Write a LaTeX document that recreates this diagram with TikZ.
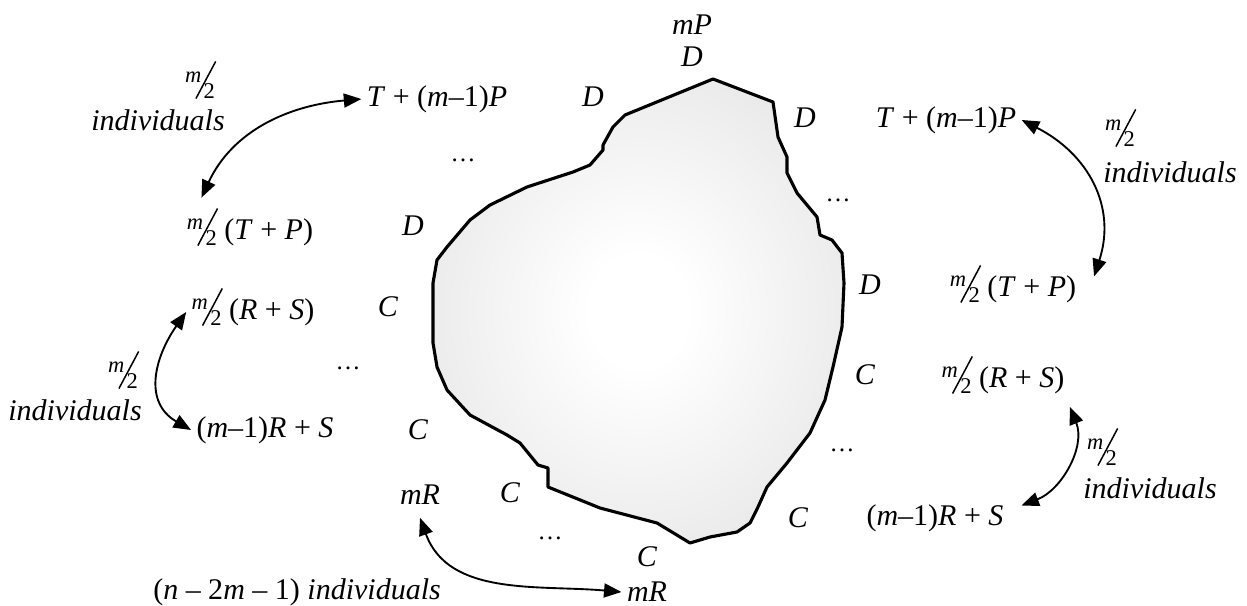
\documentclass[tikz,border=0pt]{standalone}
\usepackage{fontspec}
\setmainfont{Liberation Serif}
\usepackage{graphicx}
\usetikzlibrary{arrows.meta}

\newcommand{\hm}{\raisebox{.7ex}{\small\textit{m}}\kern-.2em\raisebox{-.5ex}{\rotatebox{62}{\rule{1.4em}{.6pt}}}\kern-.42em\raisebox{-.45ex}{\small 2}}
\newcommand{\iv}[1]{\textit{#1}}
\pgfdeclareradialshading{blobshade}{\pgfpoint{0bp}{0bp}}{color(0bp)=(white); color(6bp)=(white); color(50bp)=(black!17)}

\begin{document}
\begin{tikzpicture}[
  x=0.4pt, y=-0.4pt,
  font=\fontsize{12}{14}\selectfont,
  lbl/.style={inner sep=2pt},
  dts/.style={inner sep=1pt,font=\fontsize{10}{12}\selectfont},
  arr/.style={{Triangle[length=7pt,width=5.6pt]}-{Triangle[length=7pt,width=5.6pt]},line width=0.75pt},
  blob/.style={draw,line width=1.25pt,line join=round,shading=blobshade}
]
\useasboundingbox (0,0) rectangle (1247,606);

\path[blob] (713,79) -- (773,102) -- (778,137) -- (787,157) -- (787,173) -- (797,193)
  -- (817,217) -- (820,235) -- (832,240) -- (842,253) -- (844,283) -- (842,327)
  -- (833,367) -- (825,400) -- (810,433) -- (787,463) -- (767,487) -- (758,507)
  -- (750,523) -- (737,532) -- (710,537) -- (690,543) -- (657,523) -- (600,508)
  -- (548,487) -- (548,468) -- (538,465) -- (520,443) -- (507,435) -- (470,415)
  -- (447,390) -- (437,367) -- (433,343) -- (433,283) -- (437,260) -- (447,247)
  -- (470,220) -- (490,205) -- (527,187) -- (573,172) -- (590,165) -- (603,150)
  -- (603,145) -- (613,127) -- (625,115) -- cycle;

% top
\node[lbl] (mp)   at (692,25)  {\iv{mP}};
\node[lbl] (dtop) at (692,57)  {\iv{D}};
\node[lbl] (dtl)  at (593,97)  {\iv{D}};
\node[lbl] (dtr)  at (805,118) {\iv{D}};

% left side
\node[lbl] (ltop)   at (437,99)  {\iv{T} + (\iv{m}–1)\iv{P}};
\node[lbl] (lhalfa) at (200,80)  {\hm};
\node[lbl] (linda)  at (158,120) {\iv{individuals}};
\node[lbl] (ltp)    at (250,227) {\hm\ (\iv{T} + \iv{P})};
\node[lbl] (dl)     at (413,226) {\iv{D}};
\node[dts] (ldotsa) at (463,160) {\ldots};
\node[lbl] (lrs)    at (253,307) {\hm\ (\iv{R} + \iv{S})};
\node[lbl] (cla)    at (388,307) {\iv{C}};
\node[dts] (ldotsb) at (348,368) {\ldots};
\node[lbl] (lhalfb) at (123,370) {\hm};
\node[lbl] (lindb)  at (75,410)  {\iv{individuals}};
\node[lbl] (lmr)    at (265,430) {(\iv{m}–1)\iv{R} + \iv{S}};
\node[lbl] (clb)    at (418,430) {\iv{C}};

% bottom
\node[lbl] (mrtop) at (420,495) {\iv{mR}};
\node[lbl] (cba)   at (510,493) {\iv{C}};
\node[dts] (bdots) at (550,538) {\ldots};
\node[lbl] (cbb)   at (647,557) {\iv{C}};
\node[lbl] (mrbot) at (647,592) {\iv{mR}};
\node[lbl] (nind)  at (297,592) {(\iv{n} – 2\iv{m} – 1) \iv{individuals}};

% right side
\node[lbl] (rtop)   at (946,120)  {\iv{T} + (\iv{m}–1)\iv{P}};
\node[lbl] (rhalfa) at (1120,128) {\hm};
\node[lbl] (rinda)  at (1170,172) {\iv{individuals}};
\node[dts] (rdotsa) at (838,200)  {\ldots};
\node[lbl] (dr)     at (870,285)  {\iv{D}};
\node[lbl] (rtp)    at (1013,284) {\hm\ (\iv{T} + \iv{P})};
\node[lbl] (cra)    at (865,375)  {\iv{C}};
\node[lbl] (rrs)    at (1003,375) {\hm\ (\iv{R} + \iv{S})};
\node[dts] (rdotsb) at (842,450)  {\ldots};
\node[lbl] (rhalfb) at (1102,447) {\hm};
\node[lbl] (rindb)  at (1150,488) {\iv{individuals}};
\node[lbl] (crb)    at (798,518)  {\iv{C}};
\node[lbl] (rmr)    at (935,518)  {(\iv{m}–1)\iv{R} + \iv{S}};

\draw[arr] (ltop.west) to[out=185,in=65] ([xshift=8pt,yshift=2pt]ltp.north west);
\draw[arr] ([yshift=-2pt]lrs.west) to[out=235,in=150,looseness=1.2] (lmr.west);
\draw[arr] ([yshift=-3pt]mrtop.south) to[out=-70,in=175] (mrbot.west);
\draw[arr] (rtop.east) to[out=-27,in=72,looseness=1.1] ([xshift=5pt,yshift=3pt]rtp.east);
\draw[arr] ([yshift=-3pt]rrs.south east) to[out=-68,in=21] ([xshift=5pt,yshift=5pt]rmr.east);
\end{tikzpicture}
\end{document}
